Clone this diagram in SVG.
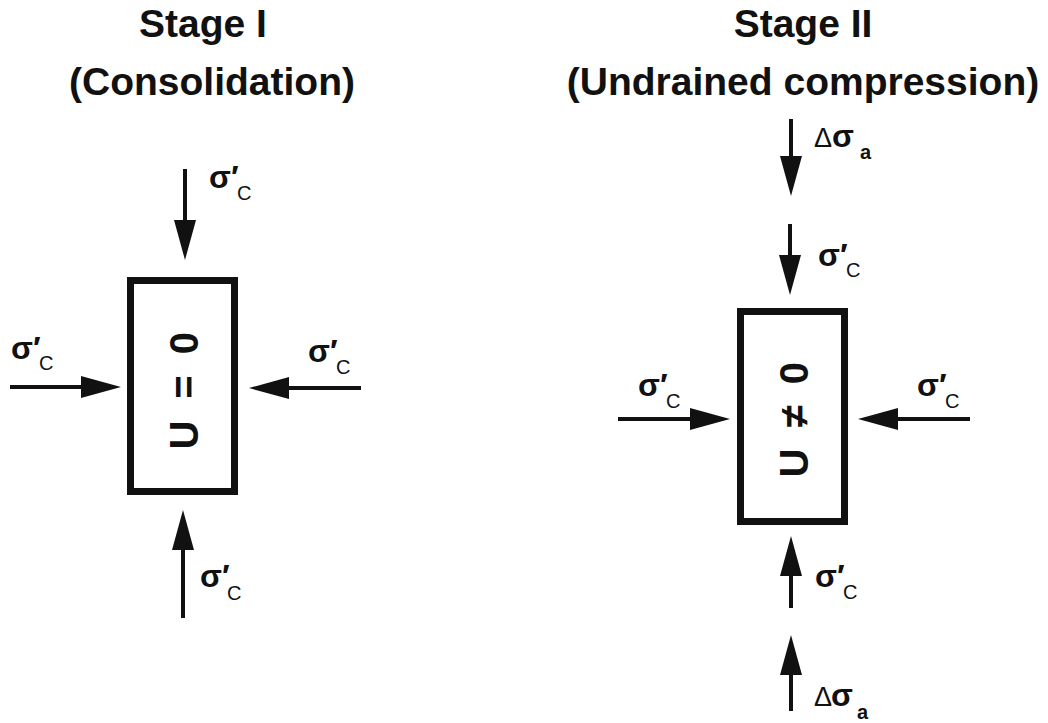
<svg xmlns="http://www.w3.org/2000/svg" width="1048" height="723" viewBox="0 0 1048 723">
<style>
.title{font-family:"Liberation Sans",Arial,sans-serif;font-weight:bold;font-size:39px;fill:#111;text-anchor:middle}
.sig{font-family:"Liberation Sans",Arial,sans-serif;font-weight:bold;font-size:32px;fill:#111}
.sub{font-family:"Liberation Sans",Arial,sans-serif;font-size:20px;fill:#111}
.subb{font-family:"Liberation Sans",Arial,sans-serif;font-weight:bold;font-size:20px;fill:#111}
.delta{font-family:"Liberation Sans",Arial,sans-serif;font-size:27px;fill:#111}
.box{fill:#fff;stroke:#111;stroke-width:7}
.inside{font-family:"Liberation Sans",Arial,sans-serif;font-weight:bold;font-size:40px;fill:#111;text-anchor:middle}
.arr{stroke:#111;stroke-width:4;fill:none;marker-end:url(#ah)}
</style>
<defs>
<marker id="ah" markerUnits="userSpaceOnUse" markerWidth="40" markerHeight="22" refX="10" refY="11" orient="auto">
<path d="M0,0 L40,11 L0,22 Z" fill="#111"/>
</marker>
</defs>
<rect width="1048" height="723" fill="#fff"/>

<g id="titles">
<text class="title" x="203" y="37">Stage I</text>
<text class="title" x="212" y="95">(Consolidation)</text>
<text class="title" x="803" y="37">Stage II</text>
<text class="title" x="803" y="95">(Undrained compression)</text>
</g>

<g id="connectors">
<!-- Stage I -->
<line class="arr" x1="185" y1="169" x2="185" y2="230"/>
<line class="arr" x1="10" y1="387" x2="91" y2="387"/>
<line class="arr" x1="361" y1="388" x2="279" y2="388"/>
<line class="arr" x1="183" y1="618" x2="183" y2="540"/>
<!-- Stage II -->
<line class="arr" x1="791" y1="119" x2="791" y2="166"/>
<line class="arr" x1="790" y1="224" x2="790" y2="265"/>
<line class="arr" x1="618" y1="419" x2="700" y2="419"/>
<line class="arr" x1="970" y1="419" x2="888" y2="419"/>
<line class="arr" x1="791" y1="608" x2="791" y2="566"/>
<line class="arr" x1="791" y1="711" x2="791" y2="665"/>
</g>

<g id="box1">
<rect class="box" x="130.5" y="280.5" width="104" height="211"/>
<g transform="translate(198,0) rotate(-90)">
<text class="inside" x="-435" y="0">U</text>
<text class="inside" x="-387" y="0">=</text>
<text class="inside" x="-343" y="0">0</text>
</g>
</g>

<g id="box2">
<rect class="box" x="740.5" y="311.5" width="104" height="210"/>
<g transform="translate(808,0) rotate(-90)">
<text class="inside" x="-463" y="0">U</text>
<text class="inside" x="-416" y="0">≠</text>
<text class="inside" x="-373" y="0">0</text>
</g>
</g>

<g id="labels1">
<text class="sig" x="209" y="188">σ′</text><text class="sub" x="237" y="200">C</text>
<text class="sig" x="11" y="359">σ′</text><text class="sub" x="39" y="370">C</text>
<text class="sig" x="308" y="362">σ′</text><text class="sub" x="336" y="374">C</text>
<text class="sig" x="200" y="587">σ′</text><text class="sub" x="227" y="600">C</text>
</g>

<g id="labels2">
<text class="delta" x="814" y="147">Δ</text><text class="sig" x="832" y="147">σ</text><text class="subb" x="860" y="159">a</text>
<text class="sig" x="818" y="266">σ′</text><text class="sub" x="846" y="277">C</text>
<text class="sig" x="638" y="396">σ′</text><text class="sub" x="666" y="408">C</text>
<text class="sig" x="917" y="396">σ′</text><text class="sub" x="945" y="408">C</text>
<text class="sig" x="815" y="587">σ′</text><text class="sub" x="843" y="599">C</text>
<text class="delta" x="814" y="706">Δ</text><text class="sig" x="831" y="706">σ</text><text class="subb" x="857" y="719">a</text>
</g>
</svg>
